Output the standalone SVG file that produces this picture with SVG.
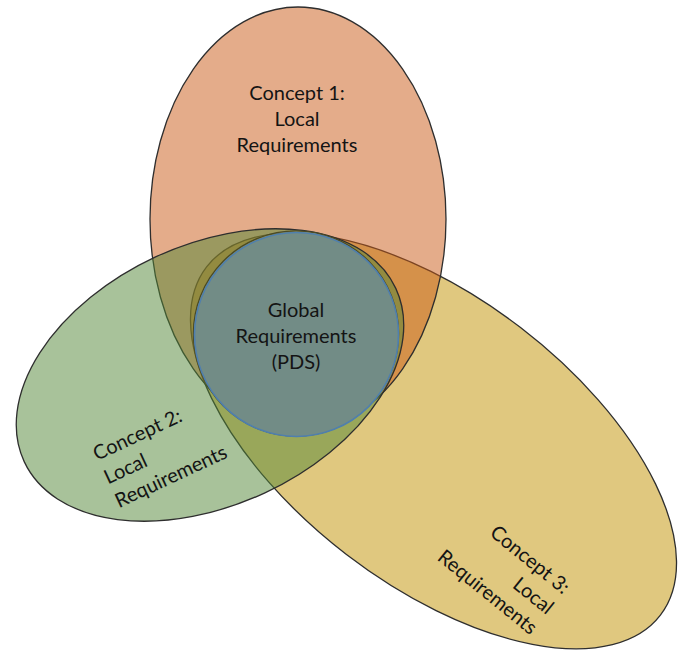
<svg xmlns="http://www.w3.org/2000/svg" width="683" height="652" viewBox="0 0 683 652">
<style>
.set{stroke:#2e2e2e;stroke-width:1.3;fill-opacity:0.5}
.lbl{font-family:Lato,"Liberation Sans",sans-serif;font-size:20px;fill:#141414}
</style>
<rect width="683" height="652" fill="#ffffff"/>
<g id="concept3">
<ellipse class="set" cx="433.5" cy="441" rx="286" ry="143" transform="rotate(37.5 433.5 441)" fill="#c19100"/>
</g>
<g id="concept1">
<ellipse class="set" cx="298" cy="219" rx="148" ry="212" fill="#c95915"/>
</g>
<g id="concept2">
<ellipse class="set" cx="210" cy="375" rx="205" ry="130" transform="rotate(-25 210 375)" fill="#518535"/>
</g>
<g id="global">
<circle cx="296" cy="333.5" r="102.6" fill="none" stroke="#4a4a26" stroke-width="1.3"/>
<circle cx="296.5" cy="334.5" r="102" fill="#728c86" stroke="#4f7fae" stroke-width="1.6"/>
</g>
<g id="labels">
<text class="lbl" text-anchor="middle"><tspan x="297" y="100">Concept 1:</tspan><tspan x="297" y="126">Local</tspan><tspan x="297" y="152">Requirements</tspan></text>
<text class="lbl" text-anchor="middle"><tspan x="296" y="317">Global</tspan><tspan x="296" y="343">Requirements</tspan><tspan x="296" y="369">(PDS)</tspan></text>
<g transform="translate(97 461) rotate(-25)"><text class="lbl"><tspan x="0" y="0">Concept 2:</tspan><tspan x="0" y="26">Local</tspan><tspan x="0" y="52">Requirements</tspan></text></g>
<g transform="translate(563 595) rotate(39)"><text class="lbl" text-anchor="end"><tspan x="0" y="0">Concept 3:</tspan><tspan x="0" y="26">Local</tspan><tspan x="0" y="52">Requirements</tspan></text></g>
</g>
</svg>
